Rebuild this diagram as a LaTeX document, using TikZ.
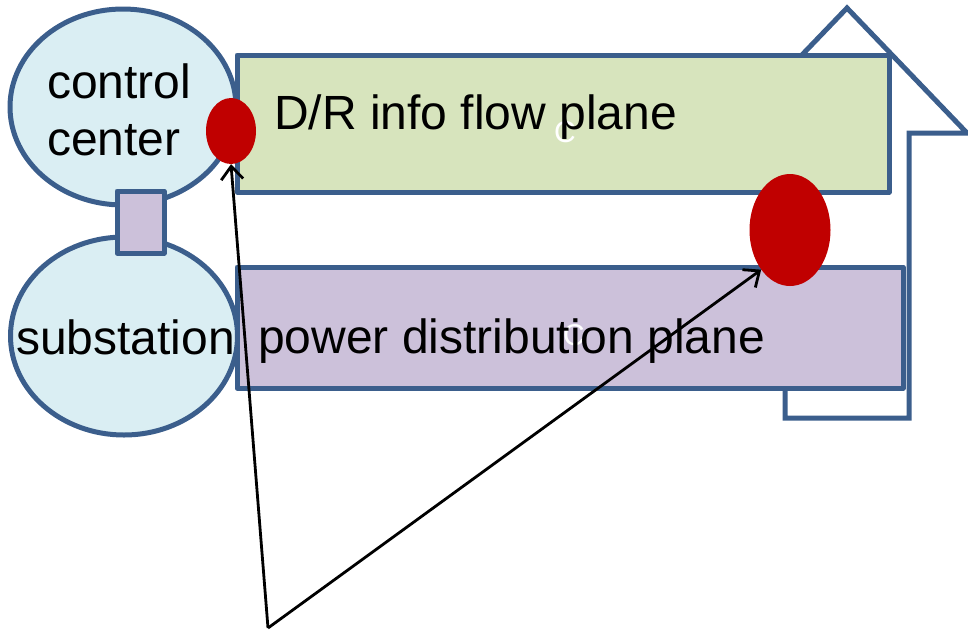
\documentclass[tikz,border=0pt]{standalone}
\usepackage{fontspec}
\setmainfont{Liberation Sans}
\usetikzlibrary{arrows.meta,shapes.geometric}
\definecolor{edgeblue}{HTML}{3B5E8C}
\definecolor{bubblefill}{HTML}{DAEEF3}
\definecolor{greenfill}{HTML}{D7E4BD}
\definecolor{purplefill}{HTML}{CCC1DA}
\definecolor{dotred}{HTML}{C00000}
\tikzset{
  outline/.style={draw=edgeblue, line width=5pt, line join=round},
  bubble/.style={outline, ellipse, fill=bubblefill, inner sep=0pt},
  plane/.style={outline, rectangle, inner sep=0pt},
  dot/.style={ellipse, fill=dotred, draw=none, inner sep=0pt},
  lbl/.style={inner sep=0pt, font=\fontsize{48}{57}\selectfont, text=black},
  ghost/.style={inner sep=0pt, font=\fontsize{30}{34}\selectfont, text=white},
  pointer/.style={draw=black, line width=2.8pt, -{Straight Barb[length=13pt,width=22pt,line width=2.8pt]}},
}
\begin{document}
\begin{tikzpicture}[x=1pt,y=-1pt]
\useasboundingbox (0,0) rectangle (968,630);
% up arrow outline behind planes
\draw[outline, line join=miter] (847,8) -- (967,133) -- (909,133) -- (909,418) -- (785,418) -- (785,133) -- (727,133) -- cycle;
% bubbles
\node[bubble, minimum width=226pt, minimum height=196pt] (cc) at (123,107) {};
\node[bubble, minimum width=227pt, minimum height=198pt] (sub) at (124,336) {};
\node[plane, fill=purplefill, minimum width=47pt, minimum height=62pt] (link) at (140.5,222) {};
% planes
\node[plane, fill=greenfill, minimum width=652pt, minimum height=137pt] (info) at (563,123.5) {};
\node[plane, fill=purplefill, minimum width=666pt, minimum height=121pt] (power) at (570,327.5) {};
% faint marks
\node[ghost, anchor=base west] (g1) at (554,142) {C};
\node[ghost, anchor=base west] (g2) at (563,345) {C};
% labels
\node[lbl, anchor=base west] (t1) at (47,98) {control};
\node[lbl, anchor=base west] (t2) at (47,155) {center};
\node[lbl, anchor=base west] (t3) at (16,354) {substation};
\node[lbl, anchor=base west] (t4) at (274,129) {D/R info flow plane};
\node[lbl, anchor=base west] (t5) at (258,353) {power distribution plane};
% red dots
\node[dot, minimum width=50pt, minimum height=66pt] (rs) at (231,131) {};
\node[dot, minimum width=81pt, minimum height=112pt] (rb) at (790,230) {};
% pointers
\coordinate (src) at (268,628);
\draw[pointer] (src) -- (rs.south);
\draw[pointer] (src) -- (rb.234);
\end{tikzpicture}
\end{document}
